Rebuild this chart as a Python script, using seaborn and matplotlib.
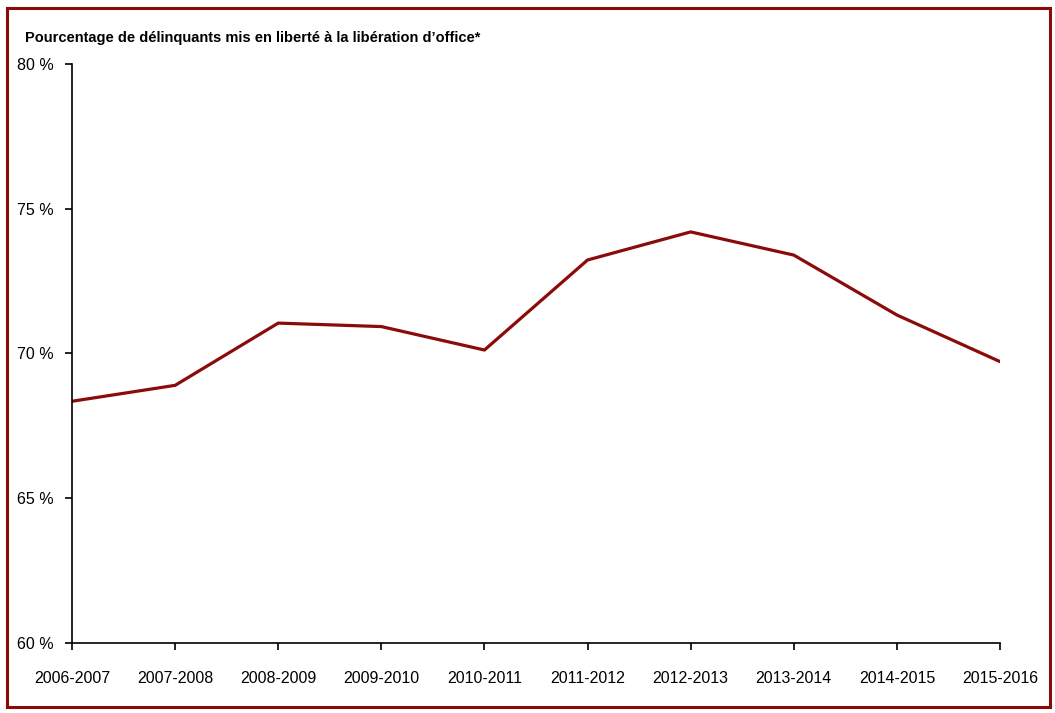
import matplotlib
matplotlib.use("Agg")
import matplotlib.pyplot as plt
import seaborn as sns
import pandas as pd
from matplotlib.patches import Rectangle

years = ["2006-2007", "2007-2008", "2008-2009", "2009-2010", "2010-2011",
         "2011-2012", "2012-2013", "2013-2014", "2014-2015", "2015-2016"]
pct = [68.35, 68.9, 71.05, 70.93, 70.12, 73.23, 74.2, 73.4, 71.33, 69.72]
yticks = [60, 65, 70, 75, 80]
title = "Pourcentage de délinquants mis en liberté à la libération d\u2019office*"

red = "#8b0a0a"

sns.set_style("white")
plt.rcParams["font.family"] = ["Liberation Sans Narrow", "Liberation Sans", "DejaVu Sans"]
plt.rcParams["text.color"] = "black"

df = pd.DataFrame({"year": years, "pct": pct})
df["x"] = range(len(df))

fig = plt.figure(figsize=(10.55, 7.13), dpi=100)
ax = fig.add_axes([72 / 1055, 1 - 643 / 713, 928 / 1055, 579 / 713])

sns.lineplot(data=df, x="x", y="pct", color=red, linewidth=2.3, ax=ax)

ax.set_xlim(0, len(years) - 1)
ax.set_ylim(60, 80)
ax.set_xticks(df["x"])
ax.set_xticklabels(years, fontsize=11.5)
ax.set_yticks(yticks)
ax.set_yticklabels([f"{v} %" for v in yticks], fontsize=11.5)
ax.set_xlabel("")
ax.set_ylabel("")
ax.tick_params(axis="both", direction="out", length=5, width=1.2, color="black",
               labelcolor="black", bottom=True, left=True)
ax.tick_params(axis="x", pad=15)
ax.tick_params(axis="y", pad=8)
for s in ["top", "right"]:
    ax.spines[s].set_visible(False)
for s in ["left", "bottom"]:
    ax.spines[s].set_color("black")
    ax.spines[s].set_linewidth(1.2)

fig.text(25 / 1055, 1 - 38 / 713, title, fontsize=10.5, fontweight="bold",
         color="black", va="center", ha="left")

fig.patches.append(Rectangle((6.5 / 1055, 1 - 706.5 / 713), 1043 / 1055, 699 / 713,
                             transform=fig.transFigure, fill=False, edgecolor=red, linewidth=2.2))

fig.savefig("out.png", dpi=100)
